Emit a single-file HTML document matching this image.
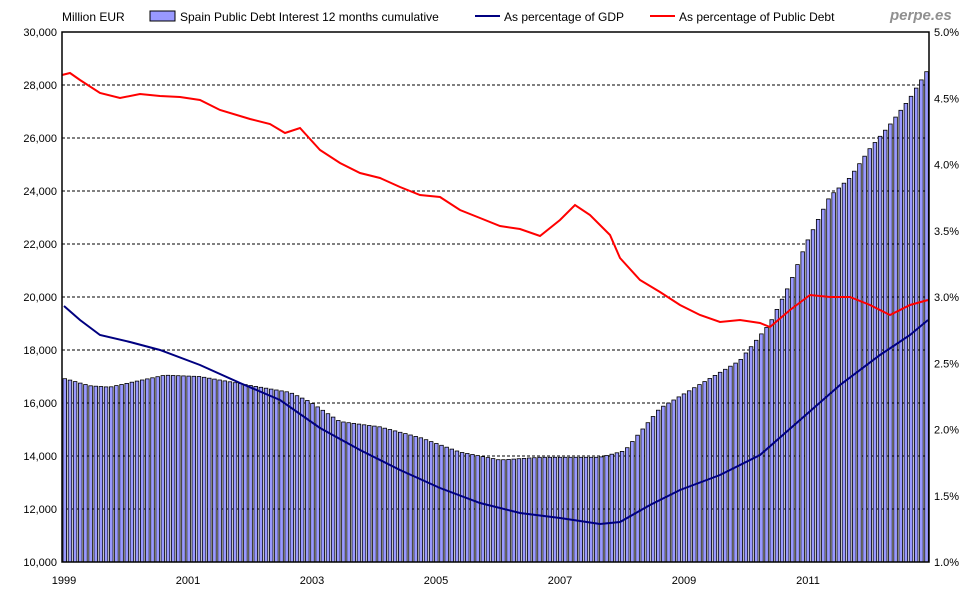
<!DOCTYPE html><html><head><meta charset="utf-8"><style>body{margin:0;background:#fff}svg{display:block;font-family:"Liberation Sans",Arial,sans-serif}</style></head><body>
<svg id="s" width="980" height="600" xmlns="http://www.w3.org/2000/svg">
<rect width="980" height="600" fill="#fff"/>
<g id="grid"></g><g id="bars"></g>
<polyline id="gdp" fill="none" stroke="#000080" stroke-width="2"/>
<polyline id="pd" fill="none" stroke="#ff0000" stroke-width="2"/>
<rect x="62" y="32" width="867" height="530" fill="none" stroke="#000" stroke-width="1.5"/>
<g id="lab" font-size="11"></g>
<text x="62" y="21" font-size="12">Million EUR</text>
<rect x="150" y="11" width="25" height="10" fill="#9999ff" stroke="#000"/>
<text x="180" y="21" font-size="12">Spain Public Debt Interest 12 months cumulative</text>
<line x1="475" y1="16" x2="500" y2="16" stroke="#000080" stroke-width="2"/>
<text x="504" y="21" font-size="12">As percentage of GDP</text>
<line x1="650" y1="16" x2="675" y2="16" stroke="#ff0000" stroke-width="2"/>
<text x="679" y="21" font-size="12">As percentage of Public Debt</text>
<text x="890" y="20" font-size="15" font-weight="bold" font-style="italic" fill="#909090">perpe.es</text>
</svg>
<script>
const NS="http://www.w3.org/2000/svg";
function el(t,a,p){const e=document.createElementNS(NS,t);for(const k in a)e.setAttribute(k,a[k]);document.getElementById(p).appendChild(e);return e;}
function interp(pts,x){for(let i=1;i<pts.length;i++){if(x<=pts[i][0]){const[a,b]=pts[i-1],[c,d]=pts[i];return b+(d-b)*(x-a)/(c-a);}}return pts[pts.length-1][1];}
const Y=v=>562-(v-10000)/20000*530;
for(let v=12000;v<30000;v+=2000)el("line",{x1:62,x2:929,y1:Y(v),y2:Y(v),stroke:"#000","stroke-dasharray":"3,2","stroke-width":1},"grid");
for(let v=10000;v<=30000;v+=2000){const t=el("text",{x:57,y:Y(v)+4,"text-anchor":"end"},"lab");t.textContent=v.toLocaleString("en-US");}
for(let i=0;i<=8;i++){const p=1+i*0.5;const t=el("text",{x:934,y:562-i*66.25+4},"lab");t.textContent=p.toFixed(1)+"%";}
for(let yr=1999;yr<=2011;yr+=2){const t=el("text",{x:64+(yr-1999)*62,y:584,"text-anchor":"middle"},"lab");t.textContent=yr;}
const B=[[62,16950],[90,16650],[110,16600],[140,16850],[165,17050],[200,17000],[260,16600],[290,16400],[310,16050],[340,15300],[380,15100],[420,14700],[460,14150],[500,13850],[540,13950],[600,13950],[625,14200],[660,15800],[700,16700],[740,17600],[770,19000],[790,20500],[806,22000],[830,23800],[850,24500],[870,25600],[890,26500],[910,27500],[930,28700]];
for(let m=0;m<168;m++){const x=63+m*5.16;const v=interp(B,x+2);el("rect",{x:x.toFixed(2),y:Y(v).toFixed(1),width:3.6,height:(562-Y(v)).toFixed(1),fill:"#9999ff",stroke:"#000","stroke-width":0.8},"bars");}
const G=[[64,306],[80,320],[100,335],[130,342],[160,350],[200,365],[240,383],[280,400],[320,428],[360,450],[400,470],[440,488],[480,503],[520,513],[560,518],[600,524],[620,522],[650,505],[680,490],[720,475],[760,455],[800,420],[840,385],[880,355],[910,335],[928,320]];
const R=[[62,75],[70,73],[80,80],[100,93],[120,98],[140,94],[160,96],[180,97],[200,100],[220,110],[250,119],[270,124],[285,133],[300,128],[320,150],[340,163],[360,173],[380,178],[400,187],[420,195],[440,197],[460,210],[480,218],[500,226],[520,229],[540,236],[560,220],[575,205],[590,215],[610,235],[620,258],[640,280],[660,292],[680,305],[700,315],[720,322],[740,320],[760,323],[770,327],[790,310],[810,295],[830,297],[850,297],[870,305],[890,315],[910,305],[928,300]];
document.getElementById("gdp").setAttribute("points",G.map(p=>p.join(",")).join(" "));
document.getElementById("pd").setAttribute("points",R.map(p=>p.join(",")).join(" "));
</script>
</body></html>
